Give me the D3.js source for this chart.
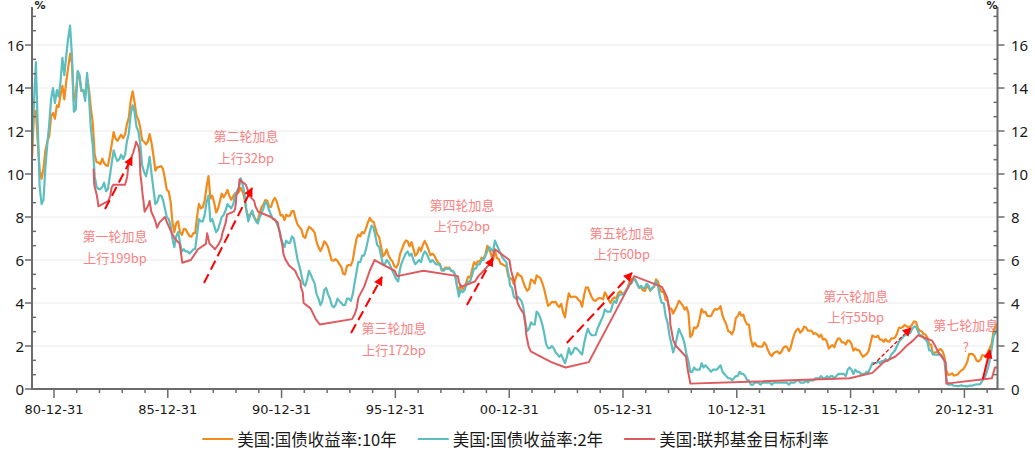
<!DOCTYPE html>
<html><head><meta charset="utf-8">
<script src="https://cdn.jsdelivr.net/npm/d3@7"></script>
<style>body{margin:0;background:#fff}svg{display:block}</style>
</head><body><svg id="c" width="1035" height="456"></svg>
<script>
// ---------- DATA ----------
const seriesStart = [1980, 0, 15]; // monthly points from Jan 1980
const seriesNames = ["美国:国债收益率:10年", "美国:国债收益率:2年", "美国:联邦基金目标利率"];
const yield10 = [
10.80,12.90,12.95,11.47,10.18,9.78,10.25,11.10,11.51,11.75,12.68,12.84,
12.57,13.19,13.12,13.68,14.10,13.47,14.28,14.94,15.60,15.15,13.39,13.72,
14.70,14.43,13.86,13.87,13.62,14.50,13.95,13.06,12.34,10.91,10.55,10.54,
10.46,10.72,10.51,10.40,10.38,10.85,11.38,11.95,11.65,11.54,11.69,11.83,
11.67,11.84,12.32,12.63,13.41,13.85,13.36,12.72,12.52,12.16,11.57,11.50,
11.38,11.51,11.86,11.43,10.85,10.16,10.31,10.33,10.37,10.24,9.78,9.26,
9.19,8.70,7.78,7.30,7.71,7.80,7.30,7.17,7.45,7.43,7.25,7.11,
7.08,7.25,7.25,8.02,8.61,8.40,8.45,8.76,9.42,9.90,8.86,8.99,
8.67,8.21,8.37,8.72,9.09,8.92,9.06,9.26,8.98,8.80,8.96,9.11,
9.09,9.17,9.36,9.18,8.86,8.28,8.02,8.11,8.19,8.01,7.87,7.84,
8.21,8.47,8.59,8.79,8.76,8.48,8.47,8.75,8.89,8.72,8.39,8.08,
8.09,7.85,8.11,8.04,8.07,8.28,8.27,7.90,7.65,7.53,7.42,7.09,
7.03,7.34,7.54,7.48,7.39,7.26,6.84,6.59,6.42,6.59,6.87,6.77,
6.60,6.26,5.98,5.97,6.04,5.96,5.81,5.68,5.36,5.33,5.72,5.77,
5.75,5.97,6.48,6.97,7.18,7.10,7.30,7.24,7.46,7.74,7.96,7.81,
7.78,7.47,7.20,7.06,6.63,6.17,6.28,6.49,6.20,6.04,5.93,5.71,
5.65,5.81,6.27,6.51,6.74,6.91,6.87,6.64,6.83,6.53,6.20,6.30,
6.58,6.42,6.69,6.89,6.71,6.49,6.22,6.30,6.21,6.03,5.88,5.81,
5.54,5.57,5.65,5.64,5.65,5.50,5.46,5.34,4.81,4.53,4.83,4.65,
4.72,5.00,5.23,5.18,5.54,5.90,5.79,5.94,5.92,6.11,6.03,6.28,
6.66,6.52,6.26,5.99,6.44,6.10,6.05,5.83,5.80,5.74,5.72,5.24,
5.16,5.10,4.89,5.14,5.39,5.28,5.24,4.97,4.73,4.57,4.65,5.09,
5.04,4.91,5.28,5.21,5.16,4.93,4.65,4.26,3.87,3.94,4.05,4.03,
4.05,3.90,3.81,3.96,3.57,3.33,3.98,4.45,4.27,4.29,4.30,4.27,
4.15,4.08,3.83,4.35,4.72,4.73,4.50,4.28,4.13,4.10,4.19,4.23,
4.22,4.17,4.50,4.34,4.14,4.00,4.18,4.26,4.20,4.46,4.54,4.47,
4.42,4.57,4.72,4.99,5.11,5.11,5.09,4.88,4.72,4.73,4.60,4.56,
4.76,4.72,4.56,4.69,4.75,5.10,5.00,4.67,4.52,4.53,4.15,4.10,
3.74,3.74,3.51,3.68,3.88,4.10,4.01,3.89,3.69,3.81,3.53,2.42,
2.52,2.87,2.82,2.93,3.29,3.72,3.56,3.59,3.40,3.39,3.40,3.59,
3.73,3.69,3.73,3.85,3.42,3.20,3.01,2.70,2.65,2.54,2.76,3.29,
3.39,3.58,3.41,3.46,3.17,3.00,3.00,2.30,1.98,2.15,2.01,1.98,
1.97,1.97,2.17,2.05,1.80,1.62,1.53,1.68,1.72,1.75,1.65,1.72,
1.91,1.98,1.96,1.76,1.93,2.30,2.58,2.74,2.81,2.62,2.72,2.90,
2.86,2.71,2.72,2.71,2.56,2.60,2.54,2.42,2.53,2.30,2.33,2.21,
1.88,1.98,2.04,1.94,2.20,2.36,2.32,2.17,2.17,2.07,2.26,2.24,
2.09,1.78,1.89,1.81,1.81,1.64,1.50,1.56,1.63,1.76,2.14,2.49,
2.43,2.42,2.48,2.30,2.30,2.19,2.32,2.21,2.20,2.36,2.35,2.40,
2.58,2.86,2.84,2.87,2.98,2.91,2.89,2.89,3.00,3.15,3.12,2.83,
2.71,2.68,2.57,2.53,2.40,2.07,2.06,1.63,1.70,1.71,1.81,1.86,
1.76,1.50,0.87,0.66,0.67,0.73,0.62,0.65,0.68,0.79,0.87,0.93,
1.08,1.26,1.61,1.64,1.62,1.52,1.32,1.28,1.37,1.58,1.56,1.47,
1.76,1.93,2.13,2.75,2.90,3.05];
const yield2 = [
11.3,13.4,15.2,12.2,9.4,8.6,8.8,10.3,11.4,12.3,13.5,14.0,
13.3,13.9,13.6,14.3,15.4,14.6,15.5,16.3,16.9,15.5,12.9,13.0,
14.8,14.6,13.9,13.9,13.4,14.7,13.6,12.1,11.3,9.9,9.4,9.3,
9.3,9.4,9.6,9.2,9.3,9.9,10.5,11.1,10.8,10.6,10.7,10.9,
10.7,10.9,11.5,11.9,12.8,13.2,12.9,12.2,12.0,11.4,10.4,10.1,
9.9,10.3,10.8,10.0,9.3,8.6,8.7,9.0,9.0,8.8,8.4,8.0,
7.9,7.6,7.0,6.6,7.1,7.3,6.8,6.4,6.5,6.4,6.4,6.3,
6.4,6.5,6.5,7.2,7.9,7.8,7.8,8.1,8.7,9.0,7.8,7.9,
7.6,7.3,7.4,7.7,8.0,8.1,8.3,8.6,8.5,8.4,8.6,9.0,
9.2,9.4,9.8,9.5,9.1,8.3,7.8,8.1,8.3,8.0,7.8,7.7,
8.0,8.2,8.4,8.7,8.6,8.3,8.1,7.9,7.9,7.7,7.5,7.1,
6.8,6.6,6.9,6.8,6.8,7.1,7.0,6.5,6.0,5.7,5.3,4.9,
4.8,5.1,5.5,5.3,5.1,4.9,4.4,4.2,3.9,4.1,4.6,4.7,
4.4,4.2,3.9,3.8,3.9,4.2,4.1,4.0,3.9,3.9,4.2,4.2,
4.1,4.4,4.9,5.4,5.9,5.9,6.2,6.2,6.5,6.9,7.3,7.6,
7.5,7.1,6.7,6.6,6.2,5.8,5.8,6.0,5.9,5.7,5.5,5.3,
5.1,5.0,5.6,5.9,6.1,6.3,6.4,6.2,6.3,6.0,5.8,5.9,
6.0,5.9,6.2,6.4,6.3,6.1,5.9,6.0,5.9,5.8,5.8,5.8,
5.5,5.5,5.6,5.6,5.6,5.5,5.5,5.3,4.8,4.3,4.6,4.5,
4.6,4.9,5.0,5.0,5.3,5.6,5.6,5.8,5.8,6.0,6.0,6.2,
6.4,6.6,6.5,6.4,6.9,6.7,6.5,6.3,6.1,6.0,5.9,5.4,
4.8,4.7,4.3,4.2,4.3,4.2,4.1,3.8,3.1,2.7,2.8,3.1,
3.0,3.0,3.6,3.5,3.3,3.0,2.6,2.1,1.9,1.9,2.0,1.9,
1.7,1.6,1.5,1.6,1.4,1.2,1.5,1.9,1.6,1.7,1.9,1.9,
1.8,1.7,1.6,2.1,2.5,2.8,2.6,2.5,2.5,2.5,2.8,3.0,
3.2,3.4,3.7,3.6,3.6,3.6,3.9,4.1,4.0,4.3,4.4,4.4,
4.4,4.6,4.7,4.9,4.9,5.1,5.1,4.9,4.7,4.8,4.7,4.7,
4.9,4.8,4.6,4.7,4.8,5.0,4.8,4.3,4.0,4.0,3.4,3.1,
2.5,2.1,1.7,2.0,2.4,2.8,2.6,2.4,2.1,1.6,1.3,0.8,
0.8,1.0,0.9,0.9,0.9,1.2,1.0,1.1,1.0,0.9,0.8,0.9,
0.9,0.9,1.0,1.1,0.8,0.7,0.6,0.5,0.5,0.4,0.5,0.6,
0.6,0.8,0.7,0.7,0.6,0.4,0.4,0.2,0.2,0.3,0.3,0.3,
0.2,0.3,0.3,0.3,0.3,0.3,0.2,0.3,0.3,0.3,0.3,0.3,
0.3,0.3,0.3,0.2,0.3,0.3,0.3,0.4,0.4,0.3,0.3,0.3,
0.4,0.3,0.4,0.4,0.4,0.5,0.5,0.5,0.6,0.5,0.5,0.6,
0.5,0.6,0.6,0.5,0.6,0.7,0.7,0.7,0.7,0.6,0.9,1.0,
0.9,0.7,0.9,0.8,0.8,0.7,0.7,0.7,0.8,0.8,1.0,1.2,
1.2,1.2,1.3,1.2,1.3,1.3,1.4,1.3,1.4,1.6,1.7,1.8,
2.0,2.2,2.3,2.4,2.5,2.5,2.6,2.6,2.8,2.9,2.9,2.7,
2.5,2.5,2.4,2.3,2.2,1.8,1.8,1.6,1.6,1.6,1.6,1.6,
1.5,1.3,0.5,0.2,0.2,0.2,0.15,0.14,0.13,0.15,0.17,0.14,
0.13,0.12,0.15,0.16,0.16,0.2,0.22,0.21,0.24,0.4,0.5,0.7,
1.0,1.4,1.9,2.5,2.6,2.9];
const fedDates = [
"1982-09-27","1982-10-08","1982-11-19","1982-12-14","1983-05-24","1983-06-23","1983-07-14","1983-08-10",
"1984-02-15","1984-03-20","1984-04-10","1984-05-20","1984-06-25","1984-07-20","1984-08-09","1984-09-20",
"1984-10-02","1984-10-11","1984-10-17","1984-11-07","1984-11-23","1984-12-06","1984-12-24",
"1985-02-14","1985-03-15","1985-04-10","1985-05-20","1985-06-20","1985-07-11","1985-08-21","1985-11-15","1985-12-18",
"1986-03-07","1986-04-21","1986-07-11","1986-08-21","1987-01-05","1987-04-30","1987-09-04","1987-09-24",
"1987-10-22","1987-11-04","1988-01-28","1988-03-29","1988-05-09","1988-05-25","1988-06-22","1988-07-19",
"1988-08-08","1988-11-22","1988-12-15","1988-12-29","1989-01-05","1989-02-14","1989-02-24","1989-06-06",
"1989-07-07","1989-07-27","1989-10-18","1989-11-06","1989-12-20","1990-07-13","1990-10-29","1990-11-14",
"1990-12-07","1990-12-19","1991-01-09","1991-02-01","1991-03-08","1991-04-30","1991-08-06","1991-09-13",
"1991-10-31","1991-11-06","1991-12-06","1991-12-20","1992-04-09","1992-07-02","1992-09-04",
"1994-02-04","1994-03-22","1994-04-18","1994-05-17","1994-08-16","1994-11-15","1995-02-01","1995-07-06",
"1995-12-19","1996-01-31","1997-03-25","1998-09-29","1998-10-15","1998-11-17","1999-06-30","1999-08-24",
"1999-11-16","2000-02-02","2000-03-21","2000-05-16","2001-01-03","2001-01-31","2001-03-20","2001-04-18",
"2001-05-15","2001-06-27","2001-08-21","2001-09-17","2001-10-02","2001-11-06","2001-12-11","2002-11-06",
"2003-06-25","2004-06-30","2005-06-30","2006-06-29","2007-09-18","2007-10-31","2007-12-11","2008-01-22",
"2008-01-30","2008-03-18","2008-04-30","2008-10-08","2008-10-29","2008-12-16","2015-12-17","2016-12-15",
"2017-03-16","2017-06-15","2017-12-14","2018-03-22","2018-06-14","2018-09-27","2018-12-20","2019-08-01",
"2019-09-19","2019-10-31","2020-03-04","2020-03-16","2022-03-17","2022-05-05","2022-06-15"];
const fedRates = [
10.25,9.5,9.0,8.5,8.75,9.0,9.375,9.5,
9.5,9.875,10.5,10.75,11.0,11.25,11.5,11.25,
11.0,10.5,10.0,9.5,9.0,8.75,8.25,
8.5,8.75,8.25,8.0,7.75,7.5,7.75,8.0,7.75,
7.25,7.0,6.75,5.875,6.0,6.5,6.75,7.25,
6.875,6.75,6.5,6.75,7.0,7.25,7.5,7.75,
8.125,8.25,8.375,8.6875,9.0,9.3125,9.75,9.5,
9.25,9.0,8.75,8.5,8.25,8.0,7.75,7.5,
7.25,7.0,6.75,6.25,6.0,5.75,5.5,5.25,
5.0,4.75,4.5,4.0,3.75,3.25,3.0,
3.25,3.5,3.75,4.25,4.75,5.5,6.0,5.75,
5.5,5.25,5.5,5.25,5.0,4.75,5.0,5.25,
5.5,5.75,6.0,6.5,6.0,5.5,5.0,4.5,
4.0,3.75,3.5,3.0,2.5,2.0,1.75,1.25,
1.0,1.25,3.25,5.25,4.75,4.5,4.25,3.5,
3.0,2.25,2.0,1.5,1.0,0.25,0.5,0.75,
1.0,1.25,1.5,1.75,2.0,2.25,2.5,2.25,
2.0,1.75,1.25,0.25,0.5,1.0,1.0];
const yTicks = [0, 2, 4, 6, 8, 10, 12, 14, 16];
const majorTickYears = [1980, 1985, 1990, 1995, 2000, 2005, 2010, 2015, 2020];
const minorTickYears = d3.range(1980, 2022);
// annotations (decimal year, value)
const annoTitles = ["第一轮加息","第二轮加息","第三轮加息","第四轮加息","第五轮加息","第六轮加息","第七轮加息"];
const annoSubs = ["上行199bp","上行32bp","上行172bp","上行62bp","上行60bp","上行55bp","?"];
const annoYear = [1983.68, 1989.43, 1995.94, 1998.92, 2005.95, 2016.23, 2021.06];
const annoValue = [7.12, 11.77, 2.84, 8.60, 7.30, 4.37, 2.98];
const arrowFromYear = [1983.24, 1987.59, 1994.05, 1999.14, 2003.53, 2016.98, 2021.81];
const arrowFromValue = [8.37, 4.93, 2.60, 3.91, 2.14, 1.12, 0.47];
const arrowToYear = [1984.43, 1989.70, 1995.41, 2000.28, 2006.39, 2018.65, 2022.12];
const arrowToValue = [10.79, 9.35, 5.21, 6.09, 5.40, 2.84, 1.81];

// ---------- STYLE ----------
const colors = ["#F38B1C", "#5DBEC0", "#DD5A5F"];
const axisColor = "#6B6B6B";
const annoColor = "#FA8282";

// ---------- CHART ----------
const svg = d3.select("#c");
const fy = yr => { const y0 = Math.floor(yr); const a = new Date(y0,0,1), b = new Date(y0+1,0,1); return new Date(+a + (yr - y0) * (b - a)); };
const x = d3.scaleTime().domain([new Date(1980,0,13), new Date(2022,5,15)]).range([32, 997.5]);
const y = d3.scaleLinear().domain([0, 17.75]).range([389, 7.4]);
const x0 = 32, x1 = 997.5, yb = 389;

// grid
svg.append("g").selectAll("line").data(yTicks.filter(d => d > 0)).join("line")
  .attr("x1", x0).attr("x2", x1).attr("y1", d => y(d)).attr("y2", d => y(d))
  .attr("stroke", "#EAEAEA").attr("stroke-width", 1);

// series
const monthDate = i => d3.timeMonth.offset(new Date(seriesStart[0], seriesStart[1], seriesStart[2]), i);
const line = d3.line().x(d => x(d[0])).y(d => y(d[1]));
const s10 = yield10.map((v, i) => [monthDate(i), v]);
const s2 = yield2.map((v, i) => [monthDate(i), v]);
const pf = d3.timeParse("%Y-%m-%d");
const sf = fedDates.map((d, i) => [pf(d), fedRates[i]]);
svg.append("clipPath").attr("id", "pc").append("rect").attr("x", x0).attr("y", 0).attr("width", x1 - x0).attr("height", yb);
const gl = svg.append("g").attr("clip-path", "url(#pc)");
[[s10, colors[0], 2.2], [s2, colors[1], 2.2], [sf, colors[2], 2]].forEach(([d, c, w]) => {
  gl.append("path").attr("d", line(d)).attr("fill", "none").attr("stroke", c)
    .attr("stroke-width", w).attr("stroke-linejoin", "round");
});

// arrows
const defs = svg.append("defs");
defs.append("marker").attr("id", "ah").attr("viewBox", "0 0 10 10").attr("refX", 9).attr("refY", 5)
  .attr("markerWidth", 12).attr("markerHeight", 9).attr("markerUnits", "userSpaceOnUse").attr("orient", "auto")
  .append("path").attr("d", "M0,0L10,5L0,10Z").attr("fill", "#FF0000");
arrowFromYear.forEach((fyv, i) => {
  const thin = i === 5, solid = i === 6;
  svg.append("line")
    .attr("x1", x(fy(fyv))).attr("y1", y(arrowFromValue[i]))
    .attr("x2", x(fy(arrowToYear[i]))).attr("y2", y(arrowToValue[i]))
    .attr("stroke", "#FF0000").attr("stroke-width", thin ? 1.2 : 2)
    .attr("stroke-dasharray", solid ? null : (thin ? "4,2" : "10,5"))
    .attr("marker-end", "url(#ah)");
});

// annotations
annoTitles.forEach((t, i) => {
  const cx = x(fy(annoYear[i])), cy = y(annoValue[i]);
  svg.append("text").attr("x", cx).attr("y", cy).attr("text-anchor", "middle").attr("dominant-baseline", "central")
    .attr("font-family", "'Noto Sans CJK SC', sans-serif").attr("font-size", 13).attr("fill", annoColor).text(t);
  svg.append("text").attr("x", cx).attr("y", cy + 21.5).attr("text-anchor", "middle").attr("dominant-baseline", "central")
    .attr("font-family", "'Noto Sans CJK SC', sans-serif").attr("font-size", 13).attr("fill", annoColor).text(annoSubs[i]);
});

// axes
const ax = svg.append("g").attr("stroke", axisColor).attr("stroke-width", 2);
ax.append("line").attr("x1", x0).attr("x2", x0).attr("y1", 7).attr("y2", yb + 1);
ax.append("line").attr("x1", x1).attr("x2", x1).attr("y1", 7).attr("y2", yb + 1);
ax.append("line").attr("x1", x0 - 1).attr("x2", x1 + 1).attr("y1", yb).attr("y2", yb);
const minorY = d3.range(0, 17.5, 2 / 3).filter(v => Math.abs(v / 2 - Math.round(v / 2)) > 0.01);
minorY.forEach(v => {
  ax.append("line").attr("x1", x0).attr("x2", x0 + 4).attr("y1", y(v)).attr("y2", y(v)).attr("stroke-width", 1.5);
  ax.append("line").attr("x1", x1 - 4).attr("x2", x1).attr("y1", y(v)).attr("y2", y(v)).attr("stroke-width", 1.5);
});
yTicks.forEach(v => {
  ax.append("line").attr("x1", x0 - 7).attr("x2", x0).attr("y1", y(v)).attr("y2", y(v)).attr("stroke-width", 1.5);
  ax.append("line").attr("x1", x1).attr("x2", x1 + 7).attr("y1", y(v)).attr("y2", y(v)).attr("stroke-width", 1.5);
});
minorTickYears.forEach(yr => {
  const d = new Date(yr, 11, 31);
  const major = majorTickYears.includes(yr);
  ax.append("line").attr("x1", x(d)).attr("x2", x(d)).attr("y1", yb).attr("y2", yb + (major ? 9 : 4)).attr("stroke-width", 1.5);
});
const lab = svg.append("g").attr("fill", "#1a1a1a");
yTicks.forEach(v => {
  lab.append("text").attr("x", 24).attr("y", y(v)).attr("text-anchor", "end").attr("dominant-baseline", "central")
    .attr("font-family", "'Noto Sans', sans-serif").attr("font-size", 15).text(v);
  lab.append("text").attr("x", 1011).attr("y", y(v)).attr("text-anchor", "start").attr("dominant-baseline", "central")
    .attr("font-family", "'Noto Sans', sans-serif").attr("font-size", 15).text(v);
});
const tf = d3.timeFormat("%y-%m-%d");
majorTickYears.forEach(yr => {
  const d = new Date(yr, 11, 31);
  lab.append("text").attr("x", x(d)).attr("y", 409).attr("text-anchor", "middle").attr("dominant-baseline", "central")
    .attr("font-family", "'DejaVu Sans', sans-serif").attr("font-size", 13).text(tf(d));
});
lab.append("text").attr("x", 40).attr("y", 9).attr("text-anchor", "middle").attr("font-family", "'DejaVu Sans', sans-serif")
  .attr("font-size", 11).attr("font-weight", "bold").text("%");
lab.append("text").attr("x", 992).attr("y", 9).attr("text-anchor", "middle").attr("font-family", "'DejaVu Sans', sans-serif")
  .attr("font-size", 11).attr("font-weight", "bold").text("%");

// legend
const lg = svg.append("g");
let cx = 0;
seriesNames.forEach((n, i) => {
  lg.append("line").attr("x1", cx).attr("x2", cx + 31).attr("y1", 0).attr("y2", 0).attr("stroke", colors[i]).attr("stroke-width", 2);
  const t = lg.append("text").attr("x", cx + 35).attr("y", 0).attr("dominant-baseline", "central")
    .attr("font-family", "'Noto Sans CJK SC', sans-serif").attr("font-size", 16.5).attr("fill", "#1a1a1a").text(n);
  cx += 35 + t.node().getComputedTextLength() + 21;
});
const lw = cx - 21;
lg.attr("transform", `translate(${515.5 - lw / 2},439)`);
</script></body></html>
